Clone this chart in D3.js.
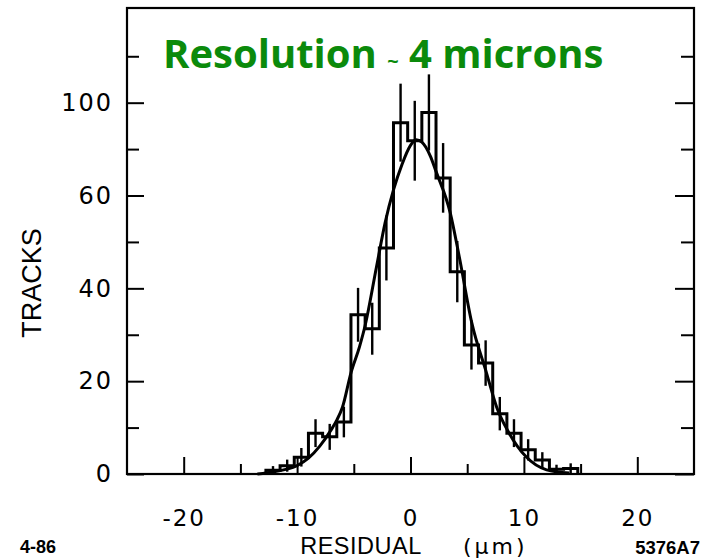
<!DOCTYPE html>
<html>
<head>
<meta charset="utf-8">
<script src="https://cdn.jsdelivr.net/npm/d3@7"></script>
<style>
  body { margin: 0; background: #fff; }
  svg { display: block; }
</style>
</head>
<body>
<div id="chart"></div>
<script>
// histogram bins (left edge, um), bin width 1.25 um
var binWidth = 1.25;
var binLeft = [-12.75, -11.5, -10.25, -9, -7.75, -6.5, -5.25, -4, -2.75, -1.5, -0.25, 1,
	2.25, 3.5, 4.75, 6, 7.25, 8.5, 9.75, 11, 12.25, 13.5];
var counts = [0.8, 1.8, 3.6, 8.8, 8.0, 11.2, 34.3, 31.3, 48.7, 75.7, 71.8, 77.9,
	63.8, 43.6, 27.8, 23.9, 13.0, 8.8, 5.2, 3.0, 1.0, 1.2];
var errors = [0.9, 1.3, 2.0, 3.0, 2.8, 3.3, 5.8, 5.6, 7.0, 8.4, 8.6, 8.2,
	7.5, 6.6, 5.3, 4.9, 3.6, 3.0, 2.3, 1.7, 1.0, 1.1];

// fitted curve
var curveX = [-13.5, -12, -11, -10, -9, -8, -7, -6.5, -6, -5.25, -4.5, -4, -3, -2.25, -1.5,
	-0.75, 0, 0.5, 1, 1.75, 2.25, 3.5, 4.3, 5.4, 6.7, 7.6, 8.7, 10.2, 12, 14];
var curveY = [0, 0.5, 1.0, 1.8, 3.4, 6.0, 9.5, 11.6, 14.4, 21.8, 27.4, 32, 44.6, 54, 61.2,
	66.7, 70.8, 72, 71.5, 68.5, 65.2, 56.3, 46.8, 32.6, 21.8, 14.4, 8.8, 3.7, 0.9, 0.2];

// axis ticks
var xMajor = [-20, -10, 0, 10, 20];
var xMajorLabels = ["-20", "-10", "0", "10", "20"];
var xMinor = [-15, -5, 5, 15];
var yMajor = [0, 20, 40, 60, 80];
var yMajorLabels = ["0", "20", "40", "60", "100"];
var yMinor = [10, 30, 50, 70, 90];

var width = 706, height = 559;

var x = d3.scaleLinear().domain([-25, 25]).range([127, 694]);
var y = d3.scaleLinear().domain([0, 100.4]).range([474, 8]);

var svg = d3.select("#chart").append("svg")
	.attr("width", width)
	.attr("height", height);

var axisFont = "'Liberation Sans', Arial, sans-serif";
var tickFont = "'DejaVu Sans', sans-serif";

// bottom axis
var xAxisMajor = d3.axisBottom(x).tickValues(xMajor)
	.tickSize(-17).tickPadding(36)
	.tickFormat(function(d, i) { return xMajorLabels[i]; });
var xAxisMinor = d3.axisBottom(x).tickValues(xMinor)
	.tickSize(-10).tickFormat("");

var gx = svg.append("g").attr("class", "axis")
	.attr("transform", "translate(0," + y(0) + ")")
	.call(xAxisMajor);
svg.append("g").attr("class", "axis")
	.attr("transform", "translate(0," + y(0) + ")")
	.call(xAxisMinor);

// left axis
var yAxisMajor = d3.axisLeft(y).tickValues(yMajor)
	.tickSize(-17).tickPadding(14)
	.tickFormat(function(d, i) { return yMajorLabels[i]; });
var yAxisMinor = d3.axisLeft(y).tickValues(yMinor)
	.tickSize(-12).tickFormat("");
svg.append("g").attr("class", "axis")
	.attr("transform", "translate(" + x(-25) + ",0)")
	.call(yAxisMajor);
svg.append("g").attr("class", "axis")
	.attr("transform", "translate(" + x(-25) + ",0)")
	.call(yAxisMinor);

// right axis, ticks only
svg.append("g").attr("class", "axis")
	.attr("transform", "translate(" + x(25) + ",0)")
	.call(d3.axisRight(y).tickValues(yMajor).tickSize(-19).tickFormat(""));
svg.append("g").attr("class", "axis")
	.attr("transform", "translate(" + x(25) + ",0)")
	.call(d3.axisRight(y).tickValues(yMinor).tickSize(-13).tickFormat(""));

svg.selectAll(".axis .domain").remove();
svg.selectAll(".axis line").attr("stroke", "#000").attr("stroke-width", 2);
svg.selectAll(".axis text")
	.attr("fill", "#000")
	.style("font-family", tickFont)
	.style("font-size", "24px")
	.style("letter-spacing", "2px");
gx.selectAll("text").style("font-size", "23px");

// frame
svg.append("rect")
	.attr("x", x(-25))
	.attr("y", y(100.4))
	.attr("width", x(25) - x(-25))
	.attr("height", y(0) - y(100.4))
	.attr("fill", "none")
	.attr("stroke", "#000")
	.attr("stroke-width", 2.2);

// histogram outline (steps)
var stepPts = [[binLeft[0], 0]];
binLeft.forEach(function(d, i) { stepPts.push([d, counts[i]]); });
stepPts.push([binLeft[binLeft.length - 1] + binWidth, 0]);

var stepLine = d3.line()
	.x(function(d) { return x(d[0]); })
	.y(function(d) { return y(d[1]); })
	.curve(d3.curveStepAfter);
svg.append("path")
	.datum(stepPts)
	.attr("d", stepLine)
	.attr("fill", "none")
	.attr("stroke", "#000")
	.attr("stroke-width", 3)
	.attr("stroke-linejoin", "miter");

// error bars
svg.append("g").selectAll("line")
	.data(binLeft)
	.join("line")
	.attr("x1", function(d) { return x(d + binWidth / 2); })
	.attr("x2", function(d) { return x(d + binWidth / 2); })
	.attr("y1", function(d, i) { return y(counts[i] + errors[i]); })
	.attr("y2", function(d, i) { return y(Math.max(0, counts[i] - errors[i])); })
	.attr("stroke", "#000")
	.attr("stroke-width", 2.4);

// fit curve
var line = d3.line()
	.x(function(d, i) { return x(curveX[i]); })
	.y(function(d) { return y(d); })
	.curve(d3.curveMonotoneX);
svg.append("path")
	.datum(curveY)
	.attr("d", line)
	.attr("fill", "none")
	.attr("stroke", "#000")
	.attr("stroke-width", 3);

// axis titles
svg.append("text")
	.text("TRACKS")
	.attr("transform", "translate(41,283) rotate(-90)")
	.style("text-anchor", "middle")
	.style("font-family", axisFont)
	.style("font-size", "27px");

svg.append("text")
	.text("RESIDUAL")
	.attr("x", 361).attr("y", 553.5)
	.style("text-anchor", "middle")
	.style("font-family", axisFont)
	.style("font-size", "23.5px")
	.style("letter-spacing", "0.5px");

svg.append("text")
	.text("(\u03bcm)")
	.attr("x", 463).attr("y", 553.5)
	.style("font-family", tickFont)
	.style("font-size", "22px")
	.style("letter-spacing", "3px");

// corner labels
svg.append("text")
	.text("4-86")
	.attr("x", 20).attr("y", 553)
	.style("font-family", axisFont)
	.style("font-weight", "bold")
	.style("font-size", "18px");
svg.append("text")
	.text("5376A7")
	.attr("x", 700).attr("y", 554)
	.style("text-anchor", "end")
	.style("font-family", axisFont)
	.style("font-weight", "bold")
	.style("font-size", "18.5px");

// title
var title = svg.append("text")
	.attr("x", 163).attr("y", 68)
	.attr("fill", "#0b8a0b")
	.style("font-family", "'Open Sans', sans-serif")
	.style("font-weight", "bold")
	.style("font-size", "40px");
title.append("tspan").text("Resolution ");
title.append("tspan").text("~").style("font-size", "20px");
title.append("tspan").text(" 4 microns");
</script>
</body>
</html>
